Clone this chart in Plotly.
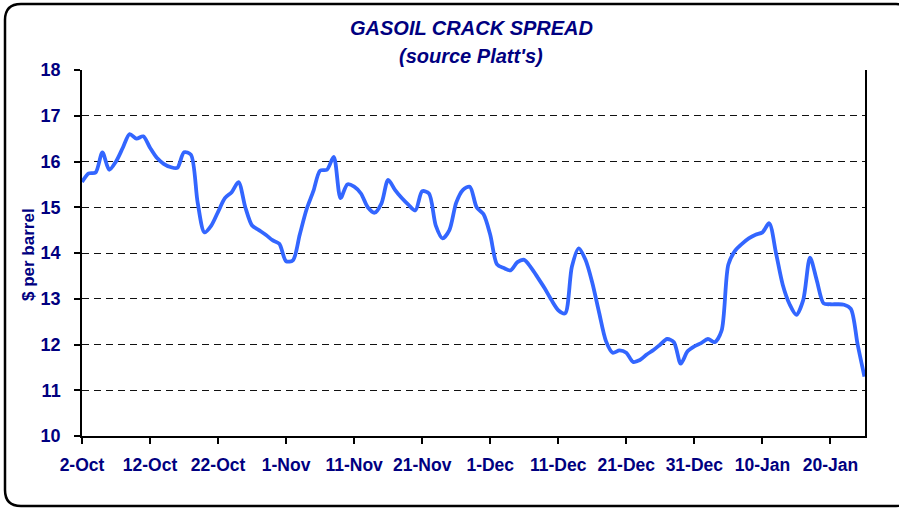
import plotly.graph_objects as go
import pandas as pd

# ---- data ----
start_date = "2006-10-02"
crack_spread = [
    15.55, 15.74, 15.76, 16.20, 15.82, 16.00, 16.30, 16.60, 16.50, 16.55,  # 2-Oct .. 11-Oct
    16.30, 16.08, 15.95, 15.88, 15.86, 16.20, 16.15, 15.10, 14.45, 14.60,  # 12-Oct .. 21-Oct
    14.90, 15.20, 15.33, 15.55, 15.00, 14.60, 14.50, 14.40, 14.28, 14.20,  # 22-Oct .. 31-Oct
    13.82, 13.84, 14.40, 14.95, 15.35, 15.80, 15.82, 16.10, 15.20, 15.50,  # 1-Nov .. 10-Nov
    15.45, 15.30, 15.00, 14.88, 15.08, 15.60, 15.38, 15.20, 15.05, 14.93,  # 11-Nov .. 20-Nov
    15.35, 15.30, 14.60, 14.32, 14.50, 15.10, 15.38, 15.45, 15.00, 14.85,  # 21-Nov .. 30-Nov
    14.40, 13.75, 13.67, 13.62, 13.80, 13.85, 13.68, 13.46, 13.23, 12.97,  # 1-Dec .. 10-Dec
    12.75, 12.68, 13.70, 14.10, 13.85, 13.35, 12.70, 12.08, 11.82, 11.87,  # 11-Dec .. 20-Dec
    11.82, 11.62, 11.66, 11.78, 11.88, 12.00, 12.12, 12.05, 11.58, 11.85,  # 21-Dec .. 30-Dec
    11.96, 12.03, 12.12, 12.05, 12.30, 13.75, 14.05, 14.20, 14.32, 14.40,  # 31-Dec .. 9-Jan
    14.45, 14.65, 14.00, 13.30, 12.88, 12.65, 12.97, 13.90, 13.40, 12.90,  # 10-Jan .. 19-Jan
    12.88, 12.88, 12.87, 12.78, 12.00, 11.30,                              # 20-Jan .. 25-Jan
]
tick_labels = ["2-Oct", "12-Oct", "22-Oct", "1-Nov", "11-Nov", "21-Nov",
               "1-Dec", "11-Dec", "21-Dec", "31-Dec", "10-Jan", "20-Jan"]
y_ticks = [10, 11, 12, 13, 14, 15, 16, 17, 18]

dates = pd.date_range(start_date, periods=len(crack_spread), freq="D")
tick_dates = pd.date_range(start_date, periods=len(tick_labels), freq="10D")

# ---- layout geometry (page pixels) ----
W, H = 899, 509
PLOT_L, PLOT_R, PLOT_T, PLOT_B = 82, 865, 70, 436
ML, MR, MT, MB = PLOT_L, W - PLOT_R, PLOT_T, H - PLOT_B
PW, PH = PLOT_R - PLOT_L, PLOT_B - PLOT_T


def px(x):
    return (x - PLOT_L) / PW


def py(y):
    return (PLOT_B - y) / PH


NAVY = "#000080"
FONT = "Liberation Sans, Arial, sans-serif"

fig = go.Figure()
fig.add_trace(go.Scatter(
    x=dates, y=crack_spread, mode="lines",
    line=dict(color="#3366FF", width=3.8, shape="spline", smoothing=0.8),
    hoverinfo="x+y", showlegend=False,
))

# rounded chart frame
x0, y0, x1, y1, r = 5, 4, 912, 506, 16
path = (
    f"M {px(x0 + r)},{py(y0)} L {px(x1 - r)},{py(y0)} "
    f"Q {px(x1)},{py(y0)} {px(x1)},{py(y0 + r)} L {px(x1)},{py(y1 - r)} "
    f"Q {px(x1)},{py(y1)} {px(x1 - r)},{py(y1)} L {px(x0 + r)},{py(y1)} "
    f"Q {px(x0)},{py(y1)} {px(x0)},{py(y1 - r)} L {px(x0)},{py(y0 + r)} "
    f"Q {px(x0)},{py(y0)} {px(x0 + r)},{py(y0)} Z"
)
fig.add_shape(type="path", xref="paper", yref="paper", path=path,
              line=dict(color="black", width=2.5), layer="below")

annotations = [
    dict(text="<b><i>GASOIL CRACK SPREAD</i></b>", x=px(471), y=py(28),
         font=dict(size=20, color=NAVY, family=FONT)),
    dict(text="<b><i>(source Platt's)</i></b>", x=px(471), y=py(56),
         font=dict(size=20, color=NAVY, family=FONT)),
    dict(text="<b>$ per barrel</b>", x=px(28), y=py(255), textangle=-90,
         font=dict(size=17, color=NAVY, family=FONT)),
]
for a in annotations:
    a.update(xref="paper", yref="paper", showarrow=False,
             xanchor="center", yanchor="middle")

fig.update_layout(
    width=W, height=H,
    margin=dict(l=ML, r=MR, t=MT, b=MB, pad=0, autoexpand=False),
    paper_bgcolor="white", plot_bgcolor="white",
    annotations=annotations,
    xaxis=dict(
        type="date",
        range=[dates[0], dates[0] + pd.Timedelta(hours=115 * 24 + 2)],
        tickvals=tick_dates, ticktext=tick_labels,
        showgrid=False, zeroline=False,
        showline=True, linecolor="black", linewidth=1.5,
        ticks="outside", ticklen=6, tickcolor="black", tickwidth=1.5,
        tickfont=dict(size=17.5, color=NAVY, family=FONT, weight="bold"),
        ticklabelstandoff=6,
    ),
    yaxis=dict(
        range=[10, 18], tickvals=y_ticks,
        showgrid=True, gridcolor="#111111", gridwidth=1, griddash="7px,5px",
        zeroline=False,
        showline=True, linecolor="black", linewidth=1.5, mirror=True,
        ticks="outside", ticklen=6, tickcolor="black", tickwidth=1.5,
        tickfont=dict(size=18, color=NAVY, family=FONT, weight="bold"),
        ticklabelstandoff=10,
    ),
)

fig.write_html(
    "out.html",
    config={"displayModeBar": False},
    post_script="document.body.style.margin='0';document.body.style.overflow='hidden';",
)
